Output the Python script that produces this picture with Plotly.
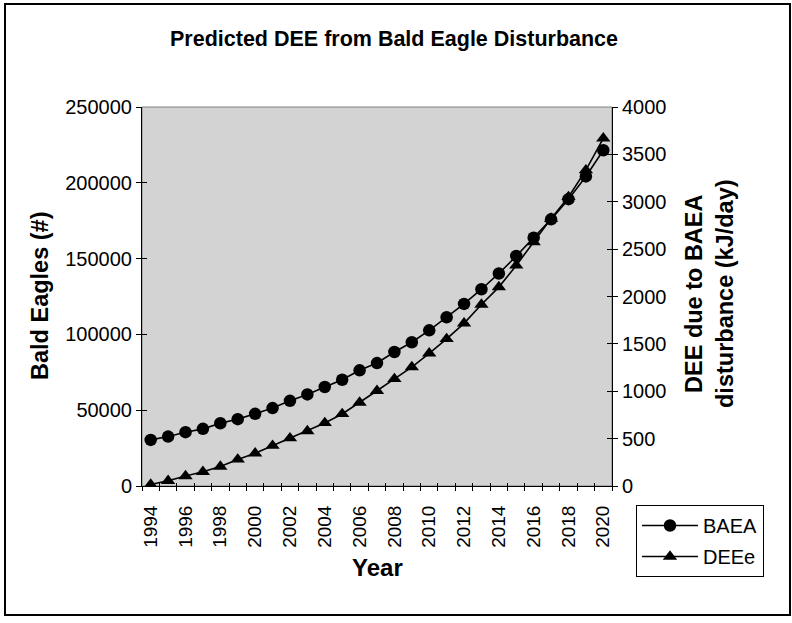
import plotly.graph_objects as go

W, H = 792, 623

years = list(range(1994, 2021))
baea = [30400, 32600, 35500, 37700, 41400, 44100, 47600, 51400, 56200, 60400,
        65300, 70100, 76300, 81100, 88400, 94800, 102700, 111300, 120100, 129800,
        140200, 151700, 163800, 175900, 189200, 204200, 221500]
deee = [15, 55, 105, 150, 205, 280, 345, 425, 505, 580,
        665, 760, 880, 1005, 1130, 1255, 1400, 1552, 1717, 1915,
        2099, 2328, 2575, 2822, 3051, 3333, 3669]
year_labels = [str(y) for y in years if y % 2 == 0]
year_label_vals = [y for y in years if y % 2 == 0]
left_ticks = [0, 50000, 100000, 150000, 200000, 250000]
right_ticks = [0, 500, 1000, 1500, 2000, 2500, 3000, 3500, 4000]

FONT = "Liberation Sans, Arial, sans-serif"

def px_x(p):
    return p / W

def px_y(p):
    return 1 - p / H

xdom = [px_x(142), px_x(612)]
ydom = [px_y(486), px_y(107)]
xr = [years[0] - 0.5, years[-1] + 0.5]
bounds = [y - 0.5 for y in years] + [years[-1] + 0.5]

fig = go.Figure()
fig.add_trace(go.Scatter(x=years, y=baea, name="BAEA", mode="lines+markers",
                         line=dict(color="black", width=1.6),
                         marker=dict(symbol="circle", size=12.5, color="black"),
                         legendgroup="a", xaxis="x", yaxis="y"))
fig.add_trace(go.Scatter(x=years, y=deee, name="DEEe", mode="lines+markers",
                         line=dict(color="black", width=1.6),
                         marker=dict(symbol="triangle-up", size=12.5, color="black"),
                         legendgroup="b", xaxis="x", yaxis="y2"))
# invisible helpers so the overlay axes (labels / inner tick halves) are drawn
for xa, ya, yv in [("x2", "y", baea), ("x3", "y3", baea), ("x", "y4", deee)]:
    fig.add_trace(go.Scatter(x=years, y=yv, mode="markers", marker=dict(opacity=0),
                             hoverinfo="skip", showlegend=False, xaxis=xa, yaxis=ya))

tickfont = dict(family=FONT, size=20, color="black")
common = dict(automargin=False, showgrid=False, zeroline=False)

fig.update_layout(
    width=W, height=H,
    margin=dict(l=0, r=0, t=0, b=0, pad=0, autoexpand=False),
    paper_bgcolor="white",
    plot_bgcolor="rgb(211,211,211)",
    showlegend=True,
    legend=dict(x=px_x(636), y=px_y(505), xanchor="left", yanchor="top",
                bordercolor="black", borderwidth=1, bgcolor="white",
                font=dict(family=FONT, size=20, color="black"),
                tracegroupgap=2, itemwidth=56),
    xaxis=dict(domain=xdom, range=xr, tickmode="array", tickvals=bounds,
               ticks="outside", ticklen=4, tickcolor="black", showticklabels=False,
               showline=True, linecolor="black", linewidth=1, anchor="y", **common),
    xaxis2=dict(domain=xdom, range=xr, overlaying="x", anchor="y", side="bottom",
                tickmode="array", tickvals=year_label_vals, ticktext=year_labels,
                ticks="outside", ticklen=11, tickcolor="rgba(0,0,0,0)",
                tickangle=-90, tickfont=dict(family=FONT, size=19, color="black"),
                showline=False, **common),
    xaxis3=dict(domain=xdom, range=xr, overlaying="x", anchor="y", side="bottom",
                tickmode="array", tickvals=bounds, ticks="inside", ticklen=3,
                tickcolor="black", showticklabels=False, showline=False, **common),
    yaxis=dict(domain=ydom, range=[0, 250000], tickmode="array", tickvals=left_ticks,
               tickformat="d", ticks="outside", ticklen=5, tickcolor="black",
               tickfont=tickfont, showline=True, linecolor="black", linewidth=1,
               anchor="x", **common),
    yaxis2=dict(domain=ydom, range=[0, 4000], overlaying="y", side="right", anchor="x",
                tickmode="array", tickvals=right_ticks, tickformat="d",
                ticks="outside", ticklen=5, tickcolor="black", tickfont=tickfont,
                showline=True, linecolor="black", linewidth=1, **common),
    yaxis3=dict(domain=ydom, range=[0, 250000], overlaying="y", side="left", anchor="x",
                tickmode="array", tickvals=left_ticks, ticks="inside", ticklen=5,
                tickcolor="black", showticklabels=False, showline=False, **common),
    yaxis4=dict(domain=ydom, range=[0, 4000], overlaying="y", side="right", anchor="x",
                tickmode="array", tickvals=right_ticks, ticks="inside", ticklen=5,
                tickcolor="black", showticklabels=False, showline=False, **common),
)

# plot-area frame (gray) and chart border
fig.add_shape(type="rect", xref="paper", yref="paper", x0=xdom[0], x1=xdom[1],
              y0=ydom[0], y1=ydom[1], line=dict(color="rgb(128,128,128)", width=1),
              layer="below")
fig.add_shape(type="rect", xref="paper", yref="paper", x0=px_x(5), x1=px_x(790),
              y0=px_y(615), y1=px_y(4), line=dict(color="black", width=2))

fig.add_annotation(text="<b>Predicted DEE from Bald Eagle Disturbance</b>",
                   xref="paper", yref="paper", x=px_x(394), y=px_y(39),
                   xanchor="center", yanchor="middle", showarrow=False,
                   font=dict(family=FONT, size=21.5, color="black"))
fig.add_annotation(text="<b>Bald Eagles (#)</b>", textangle=-90,
                   xref="paper", yref="paper", x=px_x(40), y=px_y(296),
                   xanchor="center", yanchor="middle", showarrow=False,
                   font=dict(family=FONT, size=23.5, color="black"))
fig.add_annotation(text="<b>DEE due to BAEA<br>disturbance (kJ/day)</b>", textangle=-90,
                   xref="paper", yref="paper", x=px_x(709), y=px_y(294),
                   xanchor="center", yanchor="middle", showarrow=False,
                   font=dict(family=FONT, size=23.5, color="black"))
fig.add_annotation(text="<b>Year</b>",
                   xref="paper", yref="paper", x=px_x(377), y=px_y(567),
                   xanchor="center", yanchor="middle", showarrow=False,
                   font=dict(family=FONT, size=24, color="black"))

fig.write_html("out.html", config={"displayModeBar": False},
               post_script="document.body.style.margin='0';")
